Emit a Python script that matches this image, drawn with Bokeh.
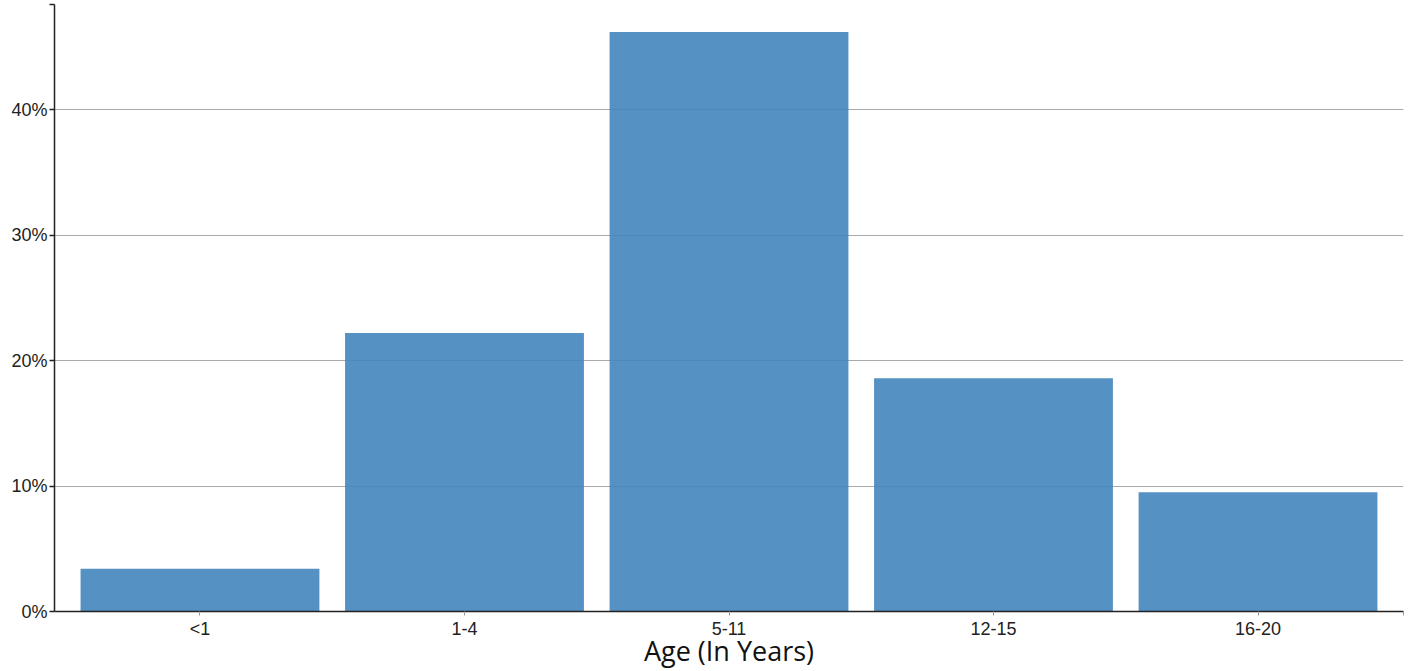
from bokeh.plotting import figure
from bokeh.models import FixedTicker, PrintfTickFormatter, Range1d, ColumnDataSource
from bokeh.embed import file_html
from bokeh.resources import INLINE

# ---- data ----
categories = ["<1", "1-4", "5-11", "12-15", "16-20"]
percent = [3.4, 22.2, 46.2, 18.6, 9.5]
y_ticks = [0, 10, 20, 30, 40]

positions = list(range(len(categories)))
YMAX = 48.4
XMIN, XMAX = -0.55, len(categories) - 1 + 0.55

src = ColumnDataSource(dict(x=positions, top=percent, cat=categories))

p = figure(width=1410, height=671, output_backend="svg", toolbar_location=None,
           x_range=Range1d(XMIN, XMAX), y_range=Range1d(0, YMAX),
           min_border_left=54, min_border_right=7, min_border_top=4, min_border_bottom=0)
p.outline_line_color = None
p.background_fill_color = "white"
p.border_fill_color = "white"

p.vbar(x="x", top="top", bottom=0, width=0.903, source=src,
       fill_color="#4286bd", fill_alpha=0.9, line_color=None)

# x axis
p.xaxis.ticker = FixedTicker(ticks=positions + [XMAX])
p.xaxis.major_label_overrides = {i: c for i, c in zip(positions, categories)}
p.xaxis.major_label_overrides[XMAX] = ""
p.xaxis.axis_line_color = "#222222"
p.xaxis.axis_line_width = 1.5
p.xaxis.major_tick_line_color = "#999999"
p.xaxis.major_tick_in = 0
p.xaxis.major_tick_out = 4
p.xaxis.minor_tick_line_color = None
p.xaxis.major_label_text_font = "Liberation Sans"
p.xaxis.major_label_text_font_size = "18px"
p.xaxis.major_label_text_color = "#222222"
p.xaxis.major_label_standoff = 3
p.xaxis.axis_label = "Age (In Years)"
p.xaxis.axis_label_text_font = "Open Sans"
p.xaxis.axis_label_text_font_style = "normal"
p.xaxis.axis_label_text_font_size = "27px"
p.xaxis.axis_label_text_color = "#111111"
p.xaxis.axis_label_standoff = -10

# y axis
p.yaxis.ticker = FixedTicker(ticks=y_ticks + [YMAX])
p.yaxis.formatter = PrintfTickFormatter(format="%d%%")
p.yaxis.major_label_overrides = {YMAX: ""}
p.yaxis.axis_line_color = "#222222"
p.yaxis.axis_line_width = 1.5
p.yaxis.major_tick_line_color = "#222222"
p.yaxis.major_tick_line_width = 1.5
p.yaxis.major_tick_in = 0
p.yaxis.major_tick_out = 5
p.yaxis.minor_tick_line_color = None
p.yaxis.major_label_text_font = "Liberation Sans"
p.yaxis.major_label_text_font_size = "18px"
p.yaxis.major_label_text_color = "#222222"
p.yaxis.major_label_standoff = 2

# grid
p.xgrid.grid_line_color = None
p.ygrid.ticker = FixedTicker(ticks=y_ticks[1:])
p.ygrid.grid_line_color = "#aaaaaa"
p.ygrid.grid_line_width = 1.2

open("out.html", "w").write(file_html(p, INLINE))
